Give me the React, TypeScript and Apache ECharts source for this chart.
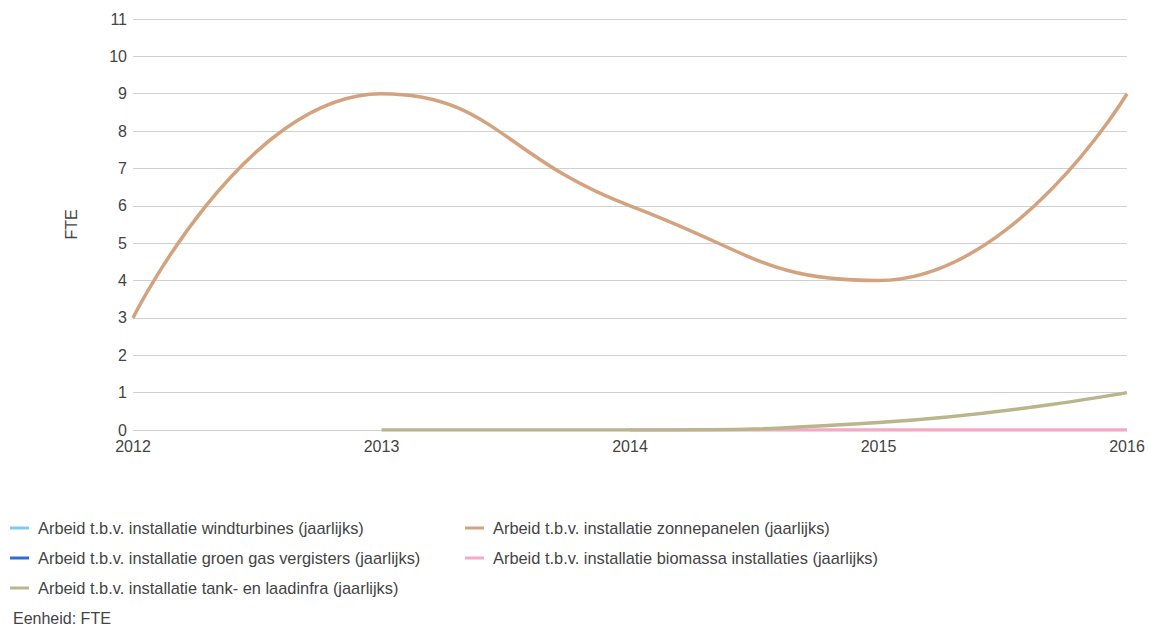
import React, { useEffect, useRef } from "react";
import * as echarts from "echarts";

const years = ["2012", "2013", "2014", "2015", "2016"];
const windturbines: (number | null)[] = [null, null, null, null, null];
const groenGas: (number | null)[] = [null, null, null, null, null];
const zonnepanelen: (number | null)[] = [3, 9, 6, 4, 9];
const biomassa: (number | null)[] = [null, null, 0, 0, 0];
const tankLaad: (number | null)[] = [null, 0, 0, 0.2, 1];

const names = [
  "Arbeid t.b.v. installatie windturbines (jaarlijks)",
  "Arbeid t.b.v. installatie zonnepanelen (jaarlijks)",
  "Arbeid t.b.v. installatie groen gas vergisters (jaarlijks)",
  "Arbeid t.b.v. installatie biomassa installaties (jaarlijks)",
  "Arbeid t.b.v. installatie tank- en laadinfra (jaarlijks)",
];
const colors = ["#7ccdf4", "#d3a27f", "#2a6fd3", "#f4a9c6", "#b9b58c"];
const font = "Arial, 'Liberation Sans', sans-serif";

export default function App() {
  const ref = useRef<HTMLDivElement>(null);
  useEffect(() => {
    const chart = echarts.init(ref.current!, undefined, { renderer: "svg" });
    const datas = [windturbines, zonnepanelen, groenGas, biomassa, tankLaad];
    const legendCommon = {
      orient: "vertical" as const,
      top: 515,
      padding: 5,
      itemWidth: 19,
      itemHeight: 3,
      itemGap: 14,
      icon: "rect",
      textStyle: { fontSize: 16.4, lineHeight: 16, color: "#444", fontFamily: font, padding: [0, 0, 0, 4] },
      selectedMode: false,
    };
    chart.setOption({
      animation: false,
      color: colors,
      textStyle: { fontFamily: font },
      grid: { left: 133, right: 22, top: 19, bottom: 195 },
      legend: [
        { ...legendCommon, left: 5, data: [names[0], names[2], names[4]] },
        { ...legendCommon, left: 460, data: [names[1], names[3]] },
      ],
      graphic: [
        {
          type: "text",
          x: 13,
          y: 618,
          style: {
            text: "Eenheid: FTE",
            fontSize: 16,
            fill: "#444",
            fontFamily: font,
            verticalAlign: "middle",
          },
        },
      ],
      xAxis: {
        type: "category",
        data: years,
        boundaryGap: false,
        axisLine: { show: false },
        axisTick: { show: false },
        axisLabel: { fontSize: 16, lineHeight: 16, color: "#444", margin: 8 },
        splitLine: { show: false },
      },
      yAxis: {
        type: "value",
        min: 0,
        max: 11,
        interval: 1,
        name: "FTE",
        nameLocation: "middle",
        nameGap: 54,
        nameRotate: 90,
        nameTextStyle: { fontSize: 16, color: "#444" },
        axisLine: { show: false },
        axisTick: { show: false },
        axisLabel: { fontSize: 16, lineHeight: 16, color: "#444", margin: 6 },
        splitLine: { lineStyle: { color: "#d0d0d0", width: 1 } },
      },
      series: names.map((n, i) => ({
        name: n,
        type: "line",
        data: datas[i],
        smooth: 0.5,
        showSymbol: false,
        symbol: "none",
        connectNulls: false,
        lineStyle: { width: 3.5, color: colors[i] },
        itemStyle: { color: colors[i] },
        z: i === 4 ? 5 : 2,
      })),
    });
    return () => chart.dispose();
  }, []);
  return <div ref={ref} style={{ width: 1149, height: 625, position: "absolute", left: 0, top: 0 }} />;
}
